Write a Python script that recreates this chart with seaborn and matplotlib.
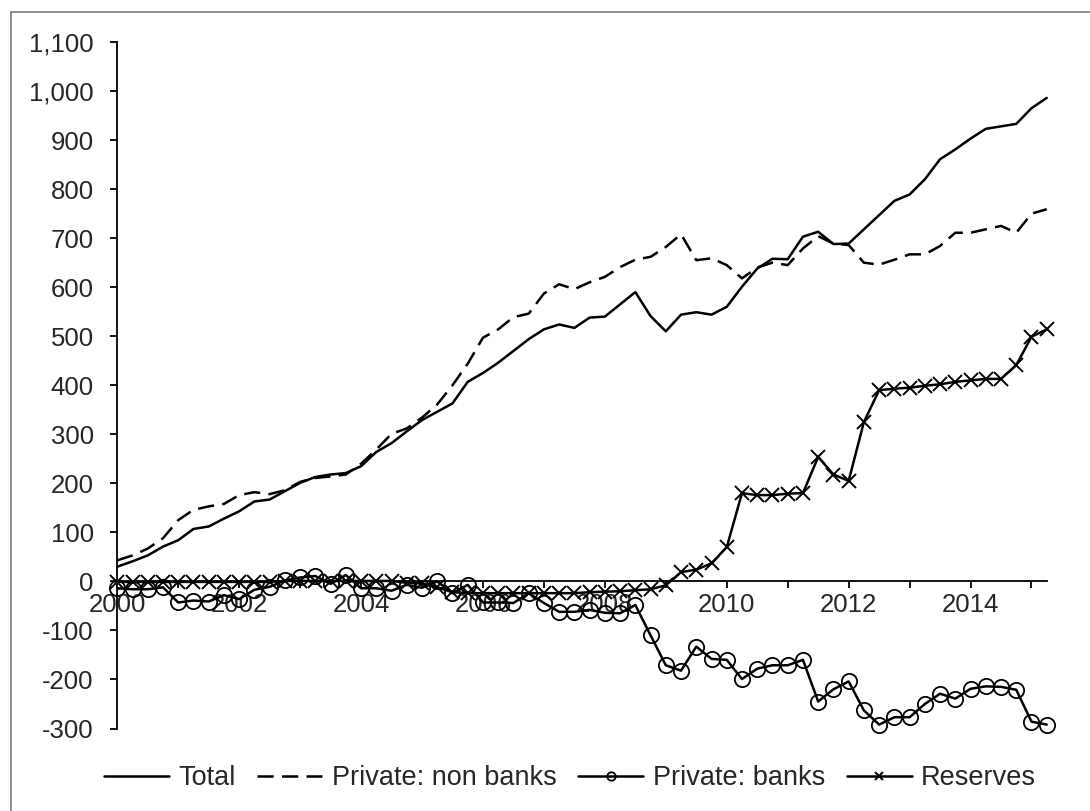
import numpy as np
import pandas as pd
import matplotlib
matplotlib.use("Agg")
import matplotlib.pyplot as plt
import seaborn as sns
from matplotlib.ticker import FuncFormatter
from matplotlib.patches import Rectangle

# ---- data (quarterly, 2000Q1 .. 2015Q2) ----
quarters = pd.period_range("2000Q1", "2015Q2", freq="Q")
total = [30, 41, 53, 71, 84, 107, 112, 128, 143, 163, 167, 184, 201, 213, 218, 221,
         235, 264, 282, 306, 329, 346, 363, 407, 425, 446, 470, 494, 514, 524, 517, 538,
         540, 565, 590, 541, 510, 544, 549, 544, 560, 601, 638, 658, 657, 703, 713, 688,
         689, 718, 747, 776, 789, 820, 861, 881, 903, 923, 928, 933, 965, 986]
non_banks = [43, 53, 67, 88, 125, 146, 153, 158, 176, 182, 178, 186, 203, 211, 214, 218,
             240, 269, 301, 312, 334, 361, 400, 444, 497, 514, 539, 546, 587, 606, 596, 610,
             621, 641, 656, 662, 682, 708, 655, 659, 645, 618, 640, 650, 645, 679, 704, 689,
             686, 650, 646, 656, 667, 667, 684, 711, 711, 718, 725, 711, 750, 759]
banks = [-14, -16, -16, -12, -43, -39, -41, -28, -36, -17, -11, 2, 8, 11, -5, 13,
         -14, -14, -19, -7, -13, 0, -24, -7, -43, -43, -44, -24, -44, -62, -62, -58,
         -64, -65, -48, -110, -171, -182, -133, -158, -160, -199, -178, -171, -171, -160, -245, -220,
         -204, -263, -292, -277, -277, -250, -229, -239, -219, -214, -215, -221, -286, -292]
reserves = [-1, -1, -1, -1, -1, -1, -1, -1, -1, -1, -1, 1, 1, 1, 1, 1,
            1, 1, 1, -3, -4, -12, -22, -24, -24, -24, -24, -24, -24, -24, -24, -22,
            -21, -20, -18, -16, -8, 19, 24, 37, 70, 180, 176, 176, 179, 180, 254, 218,
            205, 325, 390, 393, 395, 399, 402, 407, 410, 413, 413, 441, 499, 514]
series_names = ["Total", "Private: non banks", "Private: banks", "Reserves"]
x_ticks_major = list(range(2000, 2016))
y_ticks = list(range(-300, 1101, 100))

xpos = np.array([q.year + (q.quarter - 1) / 4 for q in quarters])
df = pd.DataFrame({"t": xpos, series_names[0]: total, series_names[1]: non_banks,
                   series_names[2]: banks, series_names[3]: reserves})

sns.set_style("white")
plt.rcParams["font.family"] = ["Liberation Sans", "DejaVu Sans"]

fig = plt.figure(figsize=(10.9, 8.11), dpi=100)
ax = fig.add_axes([0.1076, 0.1017, 0.8527, 0.8465])

lw = 1.8
sns.lineplot(data=df, x="t", y=series_names[0], ax=ax, color="black", lw=lw,
             label=series_names[0], clip_on=False)
sns.lineplot(data=df, x="t", y=series_names[1], ax=ax, color="black", lw=lw,
             linestyle=(0, (6.5, 3.3)), label=series_names[1], clip_on=False)
sns.lineplot(data=df, x="t", y=series_names[2], ax=ax, color="black", lw=lw,
             marker="o", markersize=11, markerfacecolor="none", markeredgecolor="black",
             markeredgewidth=1.3, label=series_names[2], clip_on=False)
sns.lineplot(data=df, x="t", y=series_names[3], ax=ax, color="black", lw=lw,
             marker="x", markersize=10, markeredgewidth=1.4, markeredgecolor="black",
             label=series_names[3], clip_on=False)

ax.set_xlim(2000, 2015.25)
ax.set_ylim(-300, 1100)
ax.set_xlabel("")
ax.set_ylabel("")

for s in ["top", "right"]:
    ax.spines[s].set_visible(False)
ax.spines["left"].set_color("black")
ax.spines["left"].set_linewidth(1.3)
ax.spines["bottom"].set_position(("data", 0))
ax.spines["bottom"].set_color("black")
ax.spines["bottom"].set_linewidth(1.3)

ax.set_xticks(x_ticks_major)
ax.xaxis.set_major_formatter(FuncFormatter(
    lambda v, p: f"{int(round(v))}" if int(round(v)) % 2 == 0 else ""))
ax.set_yticks(y_ticks)
ax.yaxis.set_major_formatter(FuncFormatter(lambda v, p: f"{int(v):,}"))
ax.tick_params(axis="x", direction="out", length=5, width=1.3, color="black",
               labelsize=18.5, pad=3, bottom=True)
ax.tick_params(axis="y", direction="out", length=5, width=1.3, color="black",
               labelsize=18.5, pad=12, left=True)
ax.grid(False)

ax.legend_.remove()
handles, labels = ax.get_legend_handles_labels()
fig.legend(handles, labels, loc="center", bbox_to_anchor=(570 / 1090, 1 - 778 / 811),
           ncol=4, frameon=False, fontsize=19.5, handlelength=2.4, handletextpad=0.35,
           columnspacing=0.8, markerscale=0.55)

fig.add_artist(Rectangle((11 / 1090, -0.1), 1.2, 1.1 - 12 / 811, transform=fig.transFigure,
                         fill=False, edgecolor="#868686", lw=1.3))

fig.savefig("out.png", dpi=100)
